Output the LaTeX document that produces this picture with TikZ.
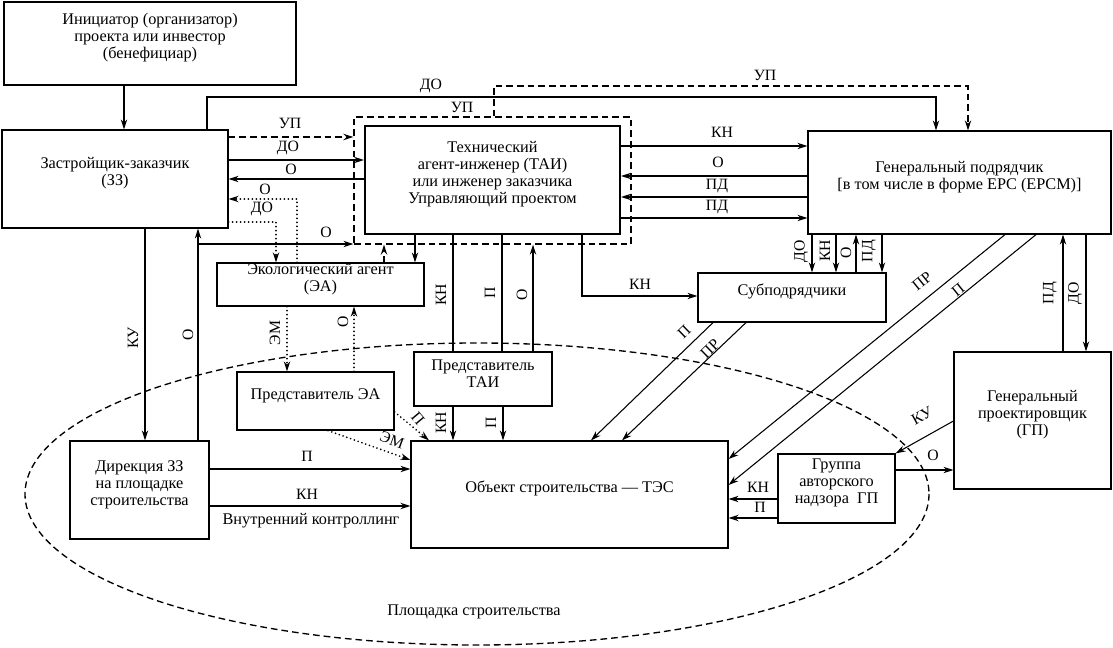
\documentclass[tikz,border=0pt]{standalone}
\usepackage{fontspec}
\setmainfont{Liberation Serif}
\usetikzlibrary{arrows.meta,fit,calc}
\begin{document}
\begin{tikzpicture}[x=0.75pt,y=-0.75pt,
  font=\fontsize{12.2}{12.8}\selectfont,
  box/.style={draw, line width=0.9pt, inner sep=0pt, align=center},
  lab/.style={font=\fontsize{11.8}{12}\selectfont, inner sep=0.5pt},
  arr/.style={-{Stealth[length=7.5pt,width=4.8pt]}, line width=0.8pt},
  ln/.style={line width=0.8pt},
  thk/.style={line width=1.5pt},
  dsh/.style={line width=1pt, dash pattern=on 5pt off 3pt},
  dtt/.style={line width=1.4pt, dash pattern=on 0pt off 3pt, line cap=round}
]
\useasboundingbox (0,0) rectangle (1113,648);
\fill[white] (0,0) rectangle (1113,648);

% ---------------- boxes ----------------
\node[box, fit={(4,2)(296,85)}] (init) {Инициатор (организатор)\\проекта или инвестор\\(бенефициар)};
\node[box, fit={(2,130)(228,228)}] (zz) {Застройщик-заказчик\\(ЗЗ)};
\node[draw, dsh, inner sep=0pt, fit={(354,117)(631,244)}] (dbox) {};
\node[box, line width=1.6pt, fit={(365,126)(620,234)}] (tai) {Технический\\агент-инженер (ТАИ)\\или инженер заказчика\\Управляющий проектом};
\node[box, fit={(808,131)(1111,234)}] (gc) {Генеральный подрядчик\\{[}в том числе в форме EPC (EPCM){]}};
\node[box, fit={(217,263)(424,306)}] (ea) {Экологический агент\\(ЭА)};
\node[box, fit={(698,273)(886,322)}] (sub) {Субподрядчики};
\node[box, fit={(414,352)(552,406)}] (tairep) {Представитель\\ТАИ};
\node[box, fit={(237,372)(394,430)}] (earep) {Представитель ЭА};
\node[box, fit={(70,441)(209,539)}] (dir) {Дирекция ЗЗ\\на площадке\\строительства};
\node[box, fit={(411,441)(728,548)}] (obj) {Объект строительства — ТЭС};
\node[box, fit={(778,454)(895,523)}] (grp) {Группа\\авторского\\надзора\ \ ГП};
\node[box, fit={(954,352)(1111,489)}] (gp) {Генеральный\\проектировщик\\(ГП)};

% construction site
\draw[dsh] (477,494) ellipse [x radius=452, y radius=151];
\node (site) at (474,612) {Площадка строительства};

% ---------------- connectors ----------------
% initiator -> ZZ
\draw[arr] (init.south -| 124,0) -- (zz.north -| 124,0);
% DO top line ZZ -> GC
\draw[arr] (zz.north -| 207,0) -- (207,97) -| (gc.north -| 936,0);
\node[lab] at (431,86) {ДО};
% UP dashed top line -> GC
\draw[arr,dsh] (dbox.north -| 494,0) -- (494,86) -| (gc.north -| 968,0);
\node[lab] at (765,75) {УП};
\node[lab] at (462,107) {УП};

% ZZ <-> TAI
\draw[arr,dsh] (zz.east |- 0,137) -- (dbox.west |- 0,137);
\node[lab] at (290,123) {УП};
\draw[arr,thk] (zz.east |- 0,160) -- (tai.west |- 0,160);
\node[lab] at (288,148) {ДО};
\draw[arr] (tai.west |- 0,179) -- (zz.east |- 0,179);
\node[lab] at (291,169) {О};

% ZZ <-> EA (dotted)
\draw[arr,dtt] (ea.north -| 297,0) -- (297,199) -- (zz.east |- 0,199);
\node[lab] at (265,189) {О};
\draw[arr,dtt] (zz.east |- 0,222) -- (276,222) -- (ea.north -| 276,0);
\node[lab] at (262,209) {ДО};

% Direction -> ZZ (O) and branch to TAI
\coordinate (obr) at (198,244);
\draw[arr] (dir.north -| 198,0) -- (zz.south -| 198,0);
\draw[arr] (obr) -- (dbox.west |- obr);
\node[lab] at (326,232) {О};
\node[lab,rotate=90] at (188,335) {О};
% ZZ -> Direction (KU)
\draw[arr] (zz.south -| 145,0) -- (dir.north -| 145,0);
\node[lab,rotate=90] at (133,338) {КУ};

% EA <-> TAI
\draw[arr,dsh] (ea.north -| 384,0) -- (dbox.south -| 384,0);
\draw[arr] (tai.south -| 415,0) -- (ea.north -| 415,0);

% TAI <-> TAI representative
\draw[ln] (tai.south -| 453,0) -- (tairep.north -| 453,0);
\node[lab,rotate=90] at (441,295) {КН};
\draw[thk] (tai.south -| 502,0) -- (tairep.north -| 502,0);
\node[lab,rotate=90] at (490,293) {П};
\draw[arr] (tairep.north -| 533,0) -- (dbox.south -| 533,0);
\node[lab,rotate=90] at (522,295) {О};

% TAI -> subcontractors
\draw[arr] (tai.south -| 582,0) -- (582,296) -- (sub.west |- 0,296);
\node[lab] at (640,284) {КН};

% TAI <-> GC
\draw[arr] (tai.east |- 0,146) -- (gc.west |- 0,146);
\node[lab] at (722,132) {КН};
\draw[arr] (gc.west |- 0,176) -- (tai.east |- 0,176);
\node[lab] at (718,162) {О};
\draw[arr,thk] (gc.west |- 0,197) -- (tai.east |- 0,197);
\node[lab] at (717,186) {ПД};
\draw[arr] (tai.east |- 0,218) -- (gc.west |- 0,218);
\node[lab] at (717,207) {ПД};

% GC <-> subcontractors
\draw[arr] (gc.south -| 812,0) -- (sub.north -| 812,0);
\node[lab,rotate=90] at (801,251) {ДО};
\draw[arr] (gc.south -| 836,0) -- (sub.north -| 836,0);
\node[lab,rotate=90] at (825,251) {КН};
\draw[arr] (sub.north -| 856,0) -- (gc.south -| 856,0);
\node[lab,rotate=90] at (846,253) {О};
\draw[arr] (gc.south -| 882,0) -- (sub.north -| 882,0);
\node[lab,rotate=90] at (869,251) {ПД};

% GC <-> GP
\draw[arr] (gp.north -| 1063,0) -- (gc.south -| 1063,0);
\node[lab,rotate=90] at (1050,293) {ПД};
\draw[arr] (gc.south -| 1086,0) -- (gp.north -| 1086,0);
\node[lab,rotate=90] at (1075,293) {ДО};

% GC -> object (diagonals)
\draw[arr] (gc.south -| 1005,0) -- (obj.east |- 0,459);
\node[lab,rotate=39] at (922,281) {ПР};
\draw[arr] (gc.south -| 1036,0) -- (obj.east |- 0,485);
\node[lab,rotate=39] at (958,290) {П};

% subcontractors -> object
\draw[arr] (sub.south -| 713,0) -- (obj.north -| 591,0);
\node[lab,rotate=44] at (684,332) {П};
\draw[arr] (sub.south -| 746,0) -- (obj.north -| 622,0);
\node[lab,rotate=44] at (710,349) {ПР};

% TAI representative -> object
\draw[arr] (tairep.south -| 453,0) -- (obj.north -| 453,0);
\node[lab,rotate=90] at (441,423) {КН};
\draw[arr] (tairep.south -| 503,0) -- (obj.north -| 503,0);
\node[lab,rotate=90] at (491,423) {П};

% EA <-> EA representative
\draw[arr,dtt] (ea.south -| 287,0) -- (earep.north -| 287,0);
\node[lab,rotate=90] at (275,333) {ЭМ};
\draw[arr,dtt] (earep.north -| 354,0) -- (ea.south -| 354,0);
\node[lab,rotate=90] at (343,322) {О};

% EA representative -> object
\draw[arr,dtt] (earep.east |- 0,412) -- (obj.north -| 429,0);
\node[lab,rotate=-50] at (418,419) {П};
\draw[arr,dtt] (earep.south -| 328,0) -- (obj.west |- 0,460);
\node[lab,rotate=-20] at (392,440) {ЭМ};

% Direction -> object
\draw[arr] (dir.east |- 0,469) -- (obj.west |- 0,469);
\node[lab] at (307,456) {П};
\draw[arr,thk] (dir.east |- 0,506) -- (obj.west |- 0,506);
\node[lab] at (307,494) {КН};
\node (ctrl) at (311,521) {Внутренний контроллинг};

% author supervision group -> object
\draw[arr] (grp.west |- 0,499) -- (obj.east |- 0,499);
\node[lab] at (758,487) {КН};
\draw[arr,thk] (grp.west |- 0,518) -- (obj.east |- 0,518);
\node[lab] at (760,507) {П};

% GP <-> group
\draw[arr] (gp.west |- 0,421) -- (grp.north east);
\node[lab,rotate=29] at (922,416) {КУ};
\draw[arr] (grp.east |- 0,470) -- (gp.west |- 0,470);
\node[lab] at (933,455) {О};
\end{tikzpicture}
\end{document}
